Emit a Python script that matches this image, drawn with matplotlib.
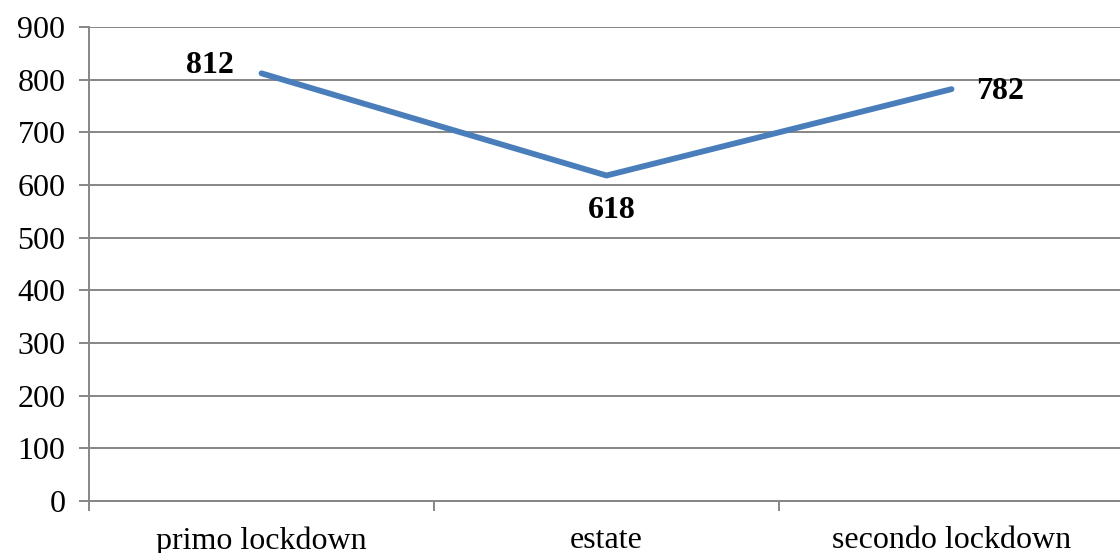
import matplotlib.pyplot as plt
import numpy as np

# dati
categorie = ['primo lockdown', 'estate', 'secondo lockdown']
valori = [812, 618, 782]
yticks = [0, 100, 200, 300, 400, 500, 600, 700, 800, 900]

plt.rcParams['font.family'] = ['Liberation Serif', 'DejaVu Serif']

fig = plt.figure(figsize=(11.2, 5.53), dpi=100)
ax = fig.add_axes([89 / 1120, 1 - 501 / 553, 1035 / 1120, 474 / 553])

grigio = '#868686'
x = np.arange(len(categorie))

ax.plot(x, valori, color='#4A7EBB', linewidth=4.2, solid_capstyle='round', zorder=3)

ax.set_xlim(-0.5, len(categorie) - 0.5)
ax.set_ylim(0, 900)
ax.set_yticks(yticks)
ax.grid(axis='y', color=grigio, linewidth=1.4)
ax.set_axisbelow(True)

for s in ['top', 'right']:
    ax.spines[s].set_visible(False)
for s in ['left', 'bottom']:
    ax.spines[s].set_color(grigio)
    ax.spines[s].set_linewidth(1.4)

ax.set_xticks(x)
ax.set_xticklabels(categorie)
ax.set_xticks(np.arange(len(categorie) + 1) - 0.5, minor=True)
ax.tick_params(axis='x', which='major', length=0, pad=18, labelsize=23)
ax.tick_params(axis='x', which='minor', length=7, width=1.4, color=grigio, direction='out')
ax.tick_params(axis='y', length=7, width=1.4, color=grigio, pad=10, labelsize=23)

# etichette dei valori
offsets = [(-28, 8, 'right'), (5, -35, 'center'), (25, -2, 'left')]
for xi, v, (dx, dy, ha) in zip(x, valori, offsets):
    ax.annotate(str(v), (xi, v), xytext=(dx, dy), textcoords='offset pixels',
                ha=ha, va='center', fontsize=23, fontweight='bold', color='black')

fig.savefig('out.png', dpi=100)
